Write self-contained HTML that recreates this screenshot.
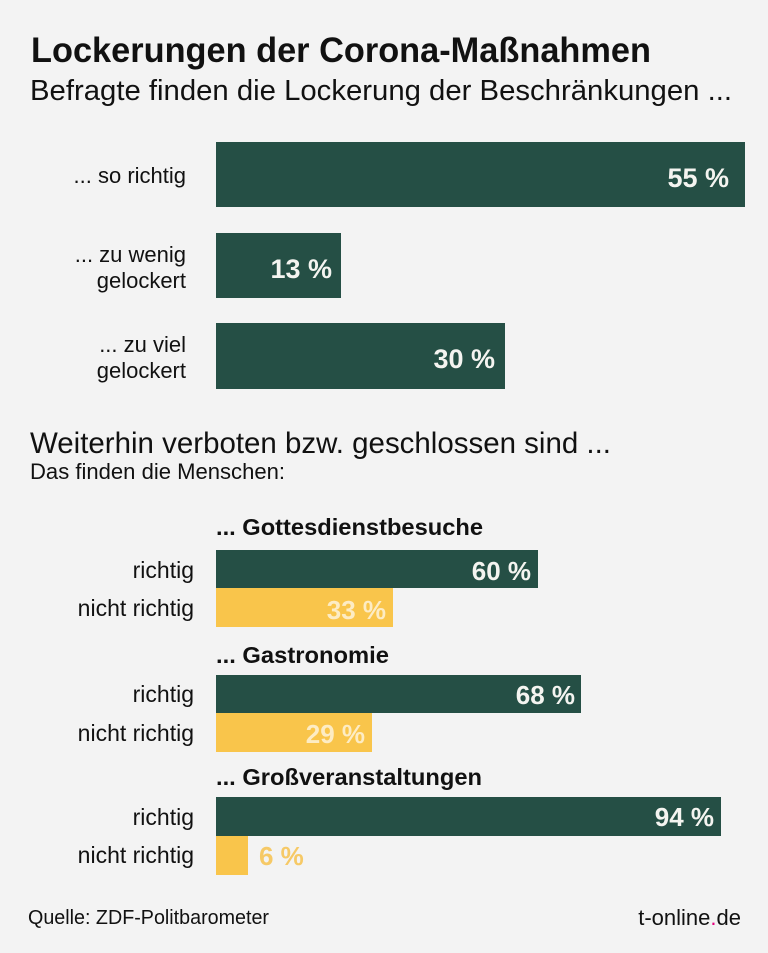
<!DOCTYPE html>
<html>
<head>
<meta charset="utf-8">
<style>
html,body{margin:0;padding:0;background:#f3f3f3;}
svg{display:block;}
text{font-family:"Liberation Sans",Arial,sans-serif;}
</style>
</head>
<body>
<svg width="768" height="953" viewBox="0 0 768 953" xmlns="http://www.w3.org/2000/svg">
<rect x="0" y="0" width="768" height="953" fill="#f3f3f3"/>

<!-- Titles -->
<text x="31" y="62" font-size="35" font-weight="bold" fill="#111" textLength="620" lengthAdjust="spacingAndGlyphs">Lockerungen der Corona-Maßnahmen</text>
<text x="30" y="100" font-size="29" fill="#111" textLength="702" lengthAdjust="spacingAndGlyphs">Befragte finden die Lockerung der Beschränkungen ...</text>

<!-- Top bars -->
<rect x="216" y="142" width="529" height="65" fill="#254f45"/>
<rect x="216" y="233" width="125" height="65" fill="#254f45"/>
<rect x="216" y="323" width="289" height="66" fill="#254f45"/>

<text x="729" y="187" font-size="27" font-weight="bold" fill="#f4f4f0" text-anchor="end">55 %</text>
<text x="332" y="278" font-size="27" font-weight="bold" fill="#f4f4f0" text-anchor="end">13 %</text>
<text x="495" y="368" font-size="27" font-weight="bold" fill="#f4f4f0" text-anchor="end">30 %</text>

<g font-size="22" fill="#111" text-anchor="end">
<text x="186" y="183">... so richtig</text>
<text x="186" y="262">... zu wenig</text>
<text x="186" y="288">gelockert</text>
<text x="186" y="352">... zu viel</text>
<text x="186" y="378">gelockert</text>
</g>

<!-- Section 2 -->
<text x="30" y="453" font-size="29.5" fill="#111" textLength="581" lengthAdjust="spacingAndGlyphs">Weiterhin verboten bzw. geschlossen sind ...</text>
<text x="30" y="479" font-size="22" fill="#111" textLength="255" lengthAdjust="spacingAndGlyphs">Das finden die Menschen:</text>

<g font-size="23" font-weight="bold" fill="#111">
<text x="216" y="535" textLength="267" lengthAdjust="spacingAndGlyphs">... Gottesdienstbesuche</text>
<text x="216" y="663" textLength="173" lengthAdjust="spacingAndGlyphs">... Gastronomie</text>
<text x="216" y="785" textLength="266" lengthAdjust="spacingAndGlyphs">... Großveranstaltungen</text>
</g>

<!-- Gottesdienst -->
<rect x="216" y="550" width="322" height="38" fill="#254f45"/>
<rect x="216" y="588" width="177" height="39" fill="#f9c54b"/>
<!-- Gastronomie -->
<rect x="216" y="675" width="365" height="38" fill="#254f45"/>
<rect x="216" y="713" width="156" height="39" fill="#f9c54b"/>
<!-- Grossveranstaltungen -->
<rect x="216" y="797" width="505" height="39" fill="#254f45"/>
<rect x="216" y="836" width="32" height="39" fill="#f9c54b"/>

<g font-size="26" font-weight="bold" text-anchor="end">
<text x="531" y="580" fill="#f4f4f0">60 %</text>
<text x="386" y="619" fill="#fdecc4">33 %</text>
<text x="575" y="704" fill="#f4f4f0">68 %</text>
<text x="365" y="743" fill="#fdecc4">29 %</text>
<text x="714" y="826" fill="#f4f4f0">94 %</text>
</g>
<text x="259" y="865" font-size="26" font-weight="bold" fill="#f6c966">6 %</text>

<g font-size="23" fill="#111" text-anchor="end">
<text x="194" y="578">richtig</text>
<text x="194" y="616">nicht richtig</text>
<text x="194" y="702">richtig</text>
<text x="194" y="741">nicht richtig</text>
<text x="194" y="825">richtig</text>
<text x="194" y="863">nicht richtig</text>
</g>

<!-- Footer -->
<text x="28" y="924" font-size="20" fill="#111" textLength="241" lengthAdjust="spacingAndGlyphs">Quelle: ZDF-Politbarometer</text>
<text x="741" y="925" font-size="22" fill="#111" text-anchor="end">t-online<tspan fill="#e5007d">.</tspan>de</text>
</svg>
</body>
</html>
